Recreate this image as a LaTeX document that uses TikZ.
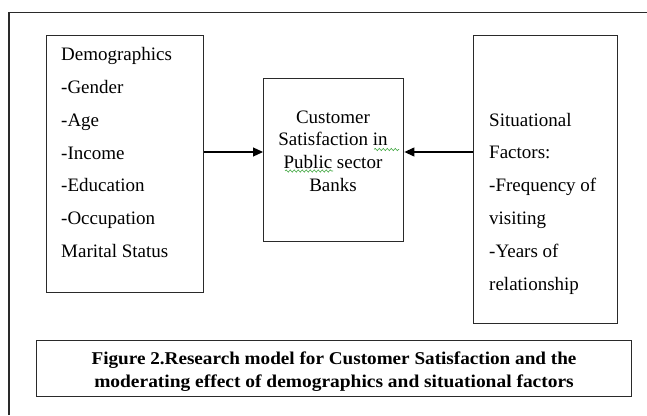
\documentclass[tikz,border=0pt]{standalone}
\usepackage{fontspec}
\setmainfont{Liberation Serif}
\usetikzlibrary{arrows.meta,decorations.pathmorphing}
\definecolor{edge}{HTML}{2A2A2A}
\definecolor{spell}{HTML}{3FA63F}
\tikzset{
  frameline/.style={draw=edge,line width=1.3pt},
  boxnode/.style={draw=edge,line width=1.4pt,inner sep=0pt,anchor=north west},
  txt/.style={inner sep=0pt,font=\fontsize{19}{22}\selectfont},
  captxt/.style={inner sep=0pt,anchor=base,font=\fontsize{18}{20}\selectfont\bfseries},
  link/.style={draw=black,line width=1.2pt,-{Triangle[length=10pt,width=9pt]}},
  wavy/.style={draw=spell,line width=0.6pt,decorate,decoration={snake,amplitude=1.1pt,segment length=4pt}}
}
\begin{document}
\begin{tikzpicture}[x=1pt,y=-1pt]
\useasboundingbox (0,0) rectangle (647,415);
\fill[white] (0,0) rectangle (647,415);
% outer frame (cut off at right and bottom)
\draw[frameline] (9,415) -- (9,12.7) -- (647,12.7);
% boxes
\node[boxnode,minimum width=157pt,minimum height=257pt] (demo) at (46,35) {};
\node[boxnode,minimum width=140pt,minimum height=163pt] (cs) at (263,78) {};
\node[boxnode,minimum width=144pt,minimum height=288pt] (sit) at (473,35) {};
\node[boxnode,minimum width=595pt,minimum height=56pt] (cap) at (36,340) {};
% left text
\foreach \t [count=\i from 0] in {Demographics,-Gender,-Age,-Income,-Education,-Occupation,Marital Status}
  \node[txt,anchor=base west] (d\i) at (61,60.7+32.8*\i) {\t};
% right text
\foreach \t [count=\i from 0] in {Situational,Factors:,-Frequency of,visiting,-Years of,relationship}
  \node[txt,anchor=base west] (s\i) at (489,126+32.8*\i) {\t};
% centre text
\foreach \t [count=\i from 0] in {Customer,Satisfaction in,Public sector,Banks}
  \node[txt,anchor=base] (c\i) at (333,123.3+22.6*\i) {\t};
% spell-check underlines
\draw[wavy] (374,149.5) -- (399,149.5);
\draw[wavy] (285,171) -- (333,171);
% connectors
\path[link] (demo.east |- 0,152) coordinate (la) -- (cs.west |- la);
\path[link] (sit.west |- 0,152) coordinate (ra) -- (cs.east |- ra);
% caption
\node[captxt] (cap1) at (334,364.7) {\scalebox{1.065}[1]{Figure 2.Research model for Customer Satisfaction and the}};
\begin{scope}
\clip (37,341) rectangle (630,390.5);
\node[captxt] (cap2) at (334,387.3) {\scalebox{1.08}[1]{moderating effect of demographics and situational factors}};
\end{scope}
\end{tikzpicture}
\end{document}
